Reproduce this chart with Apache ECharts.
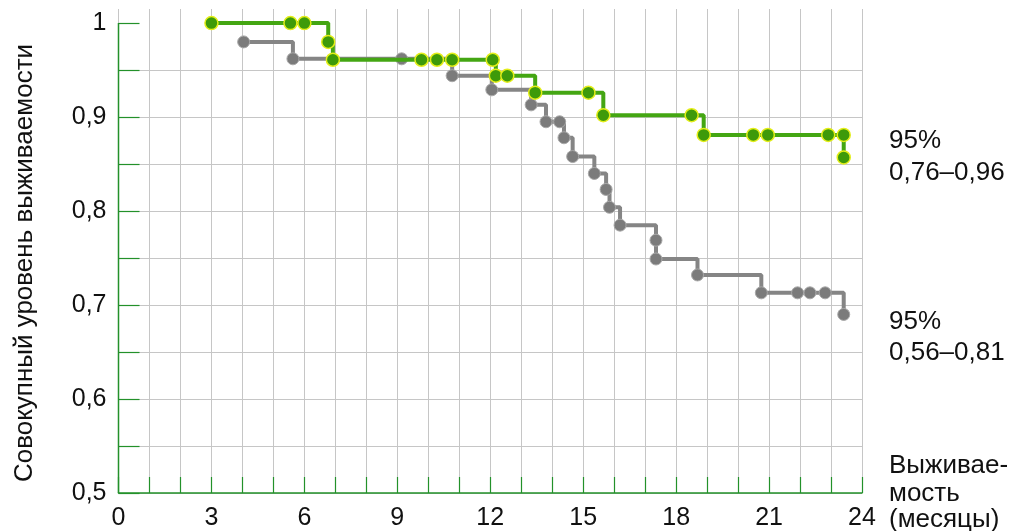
<!DOCTYPE html>
<html>
<head>
<meta charset="utf-8">
<script src="https://cdn.jsdelivr.net/npm/echarts@6/dist/echarts.min.js"></script>
<style>
html,body{margin:0;padding:0;background:#fff;}
#chart{width:1019px;height:531px;}
</style>
</head>
<body>
<div id="chart"></div>
<script>
// ---- data ----
var greenT = [3.0, 5.55, 6.0, 6.77, 6.92, 9.78, 10.28, 10.77, 12.08, 12.18, 12.55, 13.45, 15.17, 15.65, 18.5, 18.89, 20.49, 20.96, 22.91, 23.41, 23.41];
var greenS = [1.0, 1.0, 1.0, 0.98, 0.961, 0.961, 0.961, 0.961, 0.961, 0.944, 0.944, 0.926, 0.926, 0.902, 0.902, 0.881, 0.881, 0.881, 0.881, 0.881, 0.857];
var grayT = [4.04, 5.63, 9.14, 10.77, 12.05, 13.32, 13.8, 14.24, 14.38, 14.66, 15.36, 15.74, 15.85, 16.19, 17.35, 17.35, 18.69, 20.75, 21.92, 22.32, 22.81, 23.41];
var grayS = [0.98, 0.962, 0.962, 0.944, 0.929, 0.913, 0.895, 0.895, 0.878, 0.858, 0.84, 0.823, 0.804, 0.785, 0.769, 0.749, 0.732, 0.713, 0.713, 0.713, 0.713, 0.69];
var xTickLabels = [0, 3, 6, 9, 12, 15, 18, 21, 24];
var yTickLabels = [0.5, 0.6, 0.7, 0.8, 0.9, 1.0];
var yMinorTicks = [0.5, 0.55, 0.6, 0.65, 0.7, 0.75, 0.8, 0.85, 0.9, 0.95, 1.0];
var yAxisTitle = 'Совокупный уровень выживаемости';
var ciGreen = ['95%', '0,76–0,96'];
var ciGray = ['95%', '0,56–0,81'];
var xAxisTitle = ['Выживае-', 'мость', '(месяцы)'];

function zip(a, b) { return a.map(function (v, i) { return [v, b[i]]; }); }

var FONT = '"Liberation Sans", Arial, sans-serif';
var AXIS_GREEN = '#23912a';
var GRID_GRAY = '#c6c6c6';

var chart = echarts.init(document.getElementById('chart'), null, {renderer: 'canvas'});

function txt(t, x, y) {
  return {type: 'text', x: x, y: y,
    style: {text: t, font: '26px ' + FONT, fill: '#111', align: 'left', verticalAlign: 'middle'}};
}

var option = {
  backgroundColor: '#fff',
  animation: false,
  grid: {left: 118.5, right: 157, top: 9, bottom: 38},
  xAxis: {
    type: 'value', min: 0, max: 24, interval: 1,
    axisLine: {show: true, onZero: false, lineStyle: {color: AXIS_GREEN, width: 1.5}},
    axisTick: {show: true, inside: true, length: 16, lineStyle: {color: AXIS_GREEN, width: 1.2}},
    splitLine: {show: true, lineStyle: {color: GRID_GRAY, width: 1}},
    axisLabel: {
      margin: 13, color: '#111', fontFamily: FONT, fontSize: 25,
      customValues: xTickLabels,
      formatter: function (v) { return String(v); }
    }
  },
  yAxis: {
    type: 'value', min: 0.5, max: 1.015, interval: 0.05,
    axisLine: {show: false},
    axisTick: {show: true, inside: true, length: 21, customValues: yMinorTicks, lineStyle: {color: AXIS_GREEN, width: 1.2}},
    splitLine: {show: true, showMaxLine: false, lineStyle: {color: GRID_GRAY, width: 1}},
    axisLabel: {
      margin: 12, color: '#111', fontFamily: FONT, fontSize: 25,
      customValues: yTickLabels,
      formatter: function (v) {
        var r = Math.round(v * 10) / 10;
        return r === 1 ? '1' : String(r).replace('.', ',');
      }
    }
  },
  graphic: [
    {type: 'text', x: 25, y: 263, rotation: Math.PI / 2,
      style: {text: yAxisTitle, font: '26px ' + FONT, fill: '#111', align: 'center', verticalAlign: 'middle'}},
    txt(ciGreen[0], 889, 141), txt(ciGreen[1], 889, 172.5),
    txt(ciGray[0], 889, 322), txt(ciGray[1], 889, 353),
    txt(xAxisTitle[0], 889, 466), txt(xAxisTitle[1], 889, 494), txt(xAxisTitle[2], 889, 520)
  ],
  series: [
    {
      type: 'line', silent: true, symbol: 'none', z: 1,
      data: [[0, yMinorTicks[0]], [0, yMinorTicks[yMinorTicks.length - 1]]],
      lineStyle: {color: AXIS_GREEN, width: 1.5}
    },
    {
      type: 'line', step: 'end', z: 3,
      data: zip(grayT, grayS),
      symbol: 'circle', symbolSize: 12, showAllSymbol: true,
      lineStyle: {color: '#858585', width: 4},
      itemStyle: {color: '#7b7b7b', borderColor: '#a8a8a8', borderWidth: 1}
    },
    {
      type: 'line', step: 'end', z: 4,
      data: zip(greenT, greenS),
      symbol: 'circle', symbolSize: 13, showAllSymbol: true,
      lineStyle: {color: '#44a613', width: 4},
      itemStyle: {color: '#3e9a0a', borderColor: '#e4ee1a', borderWidth: 1.5}
    }
  ]
};
chart.setOption(option);
</script>
</body>
</html>
